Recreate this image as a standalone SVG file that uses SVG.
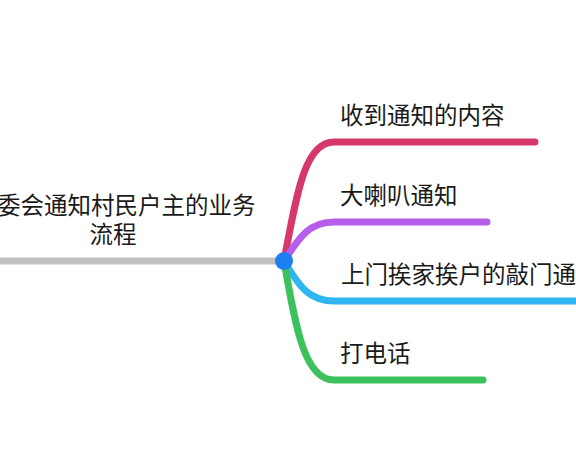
<svg xmlns="http://www.w3.org/2000/svg" width="576" height="460" viewBox="0 0 576 460">
<style>
.t{font-family:"Noto Sans CJK SC","Noto Sans",sans-serif;font-size:23.5px;fill:#1a1a1a}
.b{fill:none;stroke-width:7;stroke-linecap:round}
</style>
<rect width="576" height="460" fill="#fff"/>
<g id="connectors">
<path class="b" stroke="#c0c0c0" d="M-10 261 L284 261"/>
<path class="b" stroke="#d6386a" d="M284 261 C297 192 305 142 334 142 L535 142"/>
<path class="b" stroke="#b55ee9" d="M284 261 C300 236 310 222 334 222 L487 222"/>
<path class="b" stroke="#2fb6f0" d="M284 261 C300 288 310 301 334 301 L590 301"/>
<path class="b" stroke="#3cc15c" d="M284 261 C296 330 305 380 334 380 L483 380"/>
</g>
<g id="root">
<circle cx="284" cy="261" r="9" fill="#1b7ff0"/>
<text class="t" x="-3" y="214">委会通知村民户主的业务</text>
<text class="t" x="113" y="243" text-anchor="middle">流程</text>
</g>
<g id="n1"><text class="t" x="340" y="124">收到通知的内容</text></g>
<g id="n2"><text class="t" x="340" y="204">大喇叭通知</text></g>
<g id="n3"><text class="t" x="341" y="283">上门挨家挨户的敲门通</text></g>
<g id="n4"><text class="t" x="340" y="362">打电话</text></g>
</svg>
